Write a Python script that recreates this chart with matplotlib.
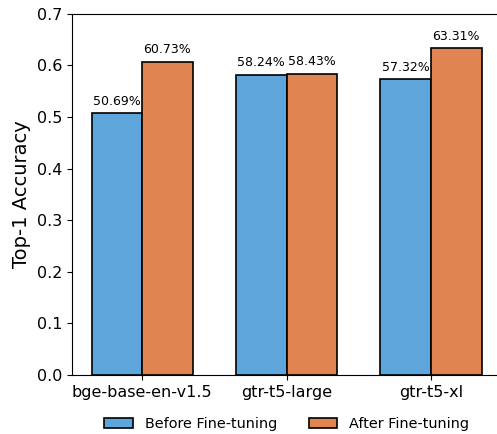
import matplotlib
matplotlib.use("Agg")
import matplotlib.pyplot as plt
import numpy as np

models = ["bge-base-en-v1.5", "gtr-t5-large", "gtr-t5-xl"]
before = [0.5069, 0.5824, 0.5732]
after = [0.6073, 0.5843, 0.6331]

fig = plt.figure(figsize=(4.97, 4.34), dpi=100)
# right spine sits just past the image edge, as in the reference
ax = fig.add_axes([0.1449, 0.136, 0.872, 0.832])

x = np.arange(len(models))
w = 0.35
b1 = ax.bar(x - w / 2, before, w, color="#5DA5DA", edgecolor="black", linewidth=1.2, label="Before Fine-tuning")
b2 = ax.bar(x + w / 2, after, w, color="#E08552", edgecolor="black", linewidth=1.2, label="After Fine-tuning")

for bars in (b1, b2):
    for bar in bars:
        h = bar.get_height()
        ax.annotate(f"{h * 100:.2f}%", (bar.get_x() + bar.get_width() / 2, h),
                    xytext=(0, 4), textcoords="offset points",
                    ha="center", va="bottom", fontsize=9)

ax.set_xticks(x)
ax.set_xticklabels(models, fontsize=11.5)
ax.set_ylim(0, 0.7)
ax.set_xlim(-0.485, 2.515)
ax.tick_params(axis="y", labelsize=11.5)
ax.set_ylabel("Top-1 Accuracy", fontsize=14)

ax.legend(loc="center", bbox_to_anchor=(0.495, -0.136), ncol=2, frameon=False,
          fontsize=10.4, handleheight=0.6, columnspacing=2.2)

fig.savefig("out.png", dpi=100)
